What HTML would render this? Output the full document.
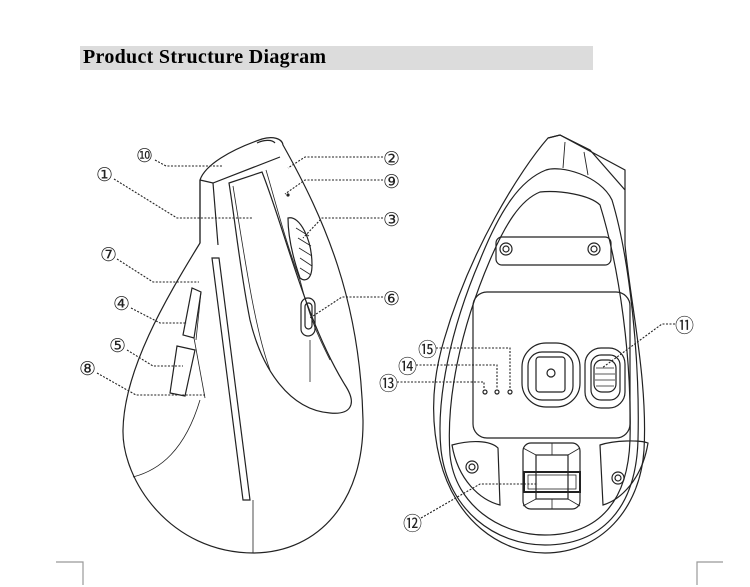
<!DOCTYPE html>
<html><head><meta charset="utf-8"><style>
html,body{margin:0;padding:0;background:#fff;}
body{width:750px;height:587px;overflow:hidden;position:relative;}
.hdr{position:absolute;left:80px;top:46px;width:513px;height:24px;background:#dcdcdc;}
.hdr span{position:absolute;left:3px;top:0px;font:bold 20px "Liberation Serif",serif;color:#000;letter-spacing:0.3px;}
svg{position:absolute;left:0;top:0;}
text{font-family:"DejaVu Sans",sans-serif;font-size:19px;fill:#222;}
</style></head><body>
<div class="hdr"><span>Product Structure Diagram</span></div>
<svg width="750" height="587" viewBox="0 0 750 587" fill="none" stroke="#222" stroke-width="1.2">
<path d="M56 562H83V585M723 562H697V585" stroke="#999"/>
<!-- LEFT MOUSE -->
<path d="M200 180 C205 165 230 150 262 139 C272 136 282 138 283 145 C325 220 360 300 363 420 C364 500 320 552 254 553 C170 553 122 480 123 430 C124 370 165 300 200 243 Z"/>
<path d="M200 180 V243"/>
<path d="M200 180 L213 183 L280 157"/>
<path d="M213 183 L218 245"/>
<path d="M257 143 C263 140 272 139 275 143" />
<path d="M229 183 L262 172 C285 230 305 320 345 385 C358 405 350 415 330 413 C290 410 262 370 250 320 C240 270 235 220 229 183 Z"/>
<path d="M233 186 C245 260 255 330 270 370" stroke-width="0.8"/>
<path d="M266 170 C275 200 285 240 300 280 C310 320 320 340 330 360" stroke-width="0.8"/>
<path d="M212 258 L243 500 L250 500 L219 258 Z"/>
<path d="M253 500 V553" stroke-width="0.8"/>
<path d="M288 218 C300 215 312 240 312 265 C312 280 305 282 300 278 C292 255 288 235 288 218 Z"/>
<path d="M296 228 L309 236 M298 238 L311 246 M299 248 L312 256 M300 258 L312 266 M300 268 L311 275" stroke-width="0.8"/>
<rect x="301" y="298" width="14" height="38" rx="7"/>
<rect x="305" y="303" width="7" height="26" rx="3.5"/>
<path d="M310 340 V382" stroke-width="0.8"/>
<path d="M192 288 L183 335 L194 338 L201 292 Z"/>
<path d="M177 346 L170 393 L185 396 L195 350 Z"/>
<path d="M194 338 L205 398" stroke-width="0.8"/>
<path d="M201 292 L196 340" stroke-width="0.8"/>
<path d="M133 477 C160 470 185 450 200 400" stroke-width="0.8"/>
<circle cx="288" cy="195" r="1" fill="#222"/>
<g stroke-dasharray="2 1.5" stroke-width="1.1">
<path d="M155 160 L166 166 H222"/>
<path d="M114 179 L177 218 H253"/>
<path d="M117 259 L153 282 H199"/>
<path d="M131 308 L160 323 H187"/>
<path d="M127 350 L153 366 H183"/>
<path d="M97 373 L136 395 H205"/>
<path d="M383 157 H305 L288 168"/>
<path d="M383 180 H305 L285 194"/>
<path d="M383 218 H322 L303 238"/>
<path d="M383 297 H342 L310 318"/>
<path d="M675 324 H662 L602 368"/>
<path d="M436 348 H510 V389"/>
<path d="M416 365 H497 V389"/>
<path d="M397 382 H484 V389"/>
<path d="M421 518 L480 484 H538"/>
</g>
<!-- RIGHT MOUSE -->
<path d="M548 138 C520 170 470 250 444 340 C432 380 430 420 440 460 C455 520 500 553 545 553 C600 553 640 510 644 450 C648 380 630 300 625 245 V190 L590 150 L560 135 Z"/>
<path d="M548 138 L560 135 L625 170 V190" />
<path d="M565 142 L563 168 M584 152 L588 175" stroke-width="0.9"/>
<path d="M546 170 C560 165 600 175 612 200 C630 260 640 360 638 440 C636 510 600 545 545 545 C495 545 448 510 441 450 C436 400 450 330 480 260 C500 210 520 180 546 170 Z"/>
<path d="M540 192 C560 190 590 195 600 205 C620 270 632 360 630 440 C628 500 600 535 545 535 C500 535 455 505 450 455 C446 400 460 330 490 260 C505 225 520 200 540 192 Z"/>
<rect x="496" y="237" width="115" height="28" rx="6"/>
<circle cx="506" cy="249" r="6"/><circle cx="506" cy="249" r="3"/>
<circle cx="594" cy="249" r="6"/><circle cx="594" cy="249" r="3"/>
<rect x="473" y="292" width="157" height="146" rx="14"/>
<rect x="522" y="343" width="58" height="64" rx="24"/>
<rect x="528" y="352" width="45" height="48" rx="14"/>
<rect x="536" y="357" width="29" height="35" rx="3"/>
<circle cx="551" cy="373" r="4"/>
<rect x="585" y="348" width="40" height="60" rx="16"/>
<rect x="591" y="355" width="29" height="45" rx="10"/>
<rect x="594" y="360" width="22" height="32" rx="8"/>
<path d="M596 368 H614 M595 374 H615 M595 380 H615 M596 386 H614" stroke-width="0.8"/>
<circle cx="485" cy="392" r="2"/><circle cx="497" cy="392" r="2"/><circle cx="510" cy="392" r="2"/>
<path d="M452 445 C470 440 490 440 498 448 L500 505 C480 500 458 480 452 445 Z"/>
<path d="M600 445 C615 440 640 440 648 443 C642 480 620 500 603 505 Z"/>
<circle cx="472" cy="467" r="6"/><circle cx="472" cy="467" r="3"/>
<circle cx="618" cy="478" r="6"/><circle cx="618" cy="478" r="3"/>
<rect x="523" y="443" width="57" height="66" rx="8"/>
<rect x="536" y="455" width="32" height="44"/>
<path d="M536 455 L523 448 M568 455 L580 448 M536 499 L523 506 M568 499 L580 506 M552 443 V455 M552 499 V509" stroke-width="0.8"/>
<rect x="524" y="472" width="56" height="20" stroke-width="2"/>
<rect x="528" y="475" width="48" height="14" stroke-width="0.8"/>
<g stroke="none">
<text x="136" y="162">⑩</text>
<text x="96" y="181">①</text>
<text x="100" y="261">⑦</text>
<text x="113" y="310">④</text>
<text x="109" y="352">⑤</text>
<text x="79" y="375">⑧</text>
<text x="383" y="165">②</text>
<text x="383" y="188">⑨</text>
<text x="383" y="226">③</text>
<text x="383" y="305">⑥</text>
<text x="675" y="332">⑪</text>
<text x="418" y="356">⑮</text>
<text x="398" y="373">⑭</text>
<text x="379" y="390">⑬</text>
<text x="403" y="530">⑫</text>
</g>
</svg>
</body></html>
